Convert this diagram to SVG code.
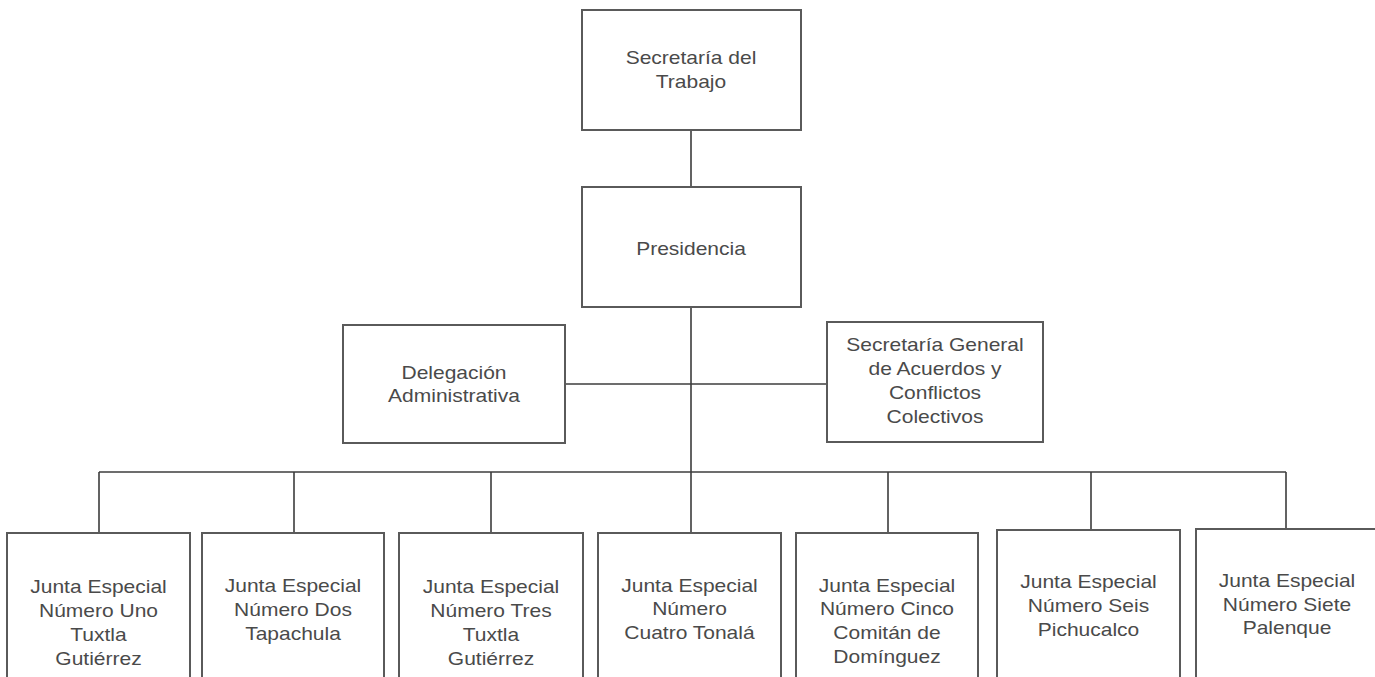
<svg xmlns="http://www.w3.org/2000/svg" width="1375" height="677" viewBox="0 0 1375 677">
<style>
.box{fill:#fff;stroke:#5a5a5a;stroke-width:2}
.conn line{stroke:#3c3c3c;stroke-width:1.6}
text{font-family:"Liberation Sans",Arial,sans-serif;font-size:17.5px;fill:#4a4a4a;text-anchor:middle}
</style>
<rect width="1375" height="677" fill="#fff"/>
<g id="connectors" class="conn">
<line x1="691" y1="130" x2="691" y2="187"/>
<line x1="691" y1="307" x2="691" y2="533"/>
<line x1="565" y1="384" x2="827" y2="384"/>
<line x1="99" y1="472" x2="1286" y2="472"/>
<line x1="99" y1="472" x2="99" y2="533"/>
<line x1="294" y1="472" x2="294" y2="533"/>
<line x1="491" y1="472" x2="491" y2="533"/>
<line x1="888" y1="472" x2="888" y2="533"/>
<line x1="1091" y1="472" x2="1091" y2="530"/>
<line x1="1286" y1="472" x2="1286" y2="529"/>
</g>
<g id="secretaria-trabajo">
<rect class="box" x="582" y="10" width="219" height="120"/>
<text transform="matrix(1.2,0,0,1,691,0)"><tspan x="0" y="64">Secretaría del</tspan><tspan x="0" y="88">Trabajo</tspan></text>
</g>
<g id="presidencia">
<rect class="box" x="582" y="187" width="219" height="120"/>
<text transform="matrix(1.2,0,0,1,691,0)"><tspan x="0" y="255">Presidencia</tspan></text>
</g>
<g id="delegacion">
<rect class="box" x="343" y="325" width="222" height="118"/>
<text transform="matrix(1.2,0,0,1,454,0)"><tspan x="0" y="379">Delegación</tspan><tspan x="0" y="402">Administrativa</tspan></text>
</g>
<g id="secretaria-general">
<rect class="box" x="827" y="322" width="216" height="120"/>
<text transform="matrix(1.2,0,0,1,935,0)"><tspan x="0" y="351">Secretaría General</tspan><tspan x="0" y="375">de Acuerdos y</tspan><tspan x="0" y="399">Conflictos</tspan><tspan x="0" y="423">Colectivos</tspan></text>
</g>
<g id="junta-1">
<rect class="box" x="7" y="533" width="183" height="160"/>
<text transform="matrix(1.2,0,0,1,98.5,0)"><tspan x="0" y="593">Junta Especial</tspan><tspan x="0" y="617">Número Uno</tspan><tspan x="0" y="641">Tuxtla</tspan><tspan x="0" y="665">Gutiérrez</tspan></text>
</g>
<g id="junta-2">
<rect class="box" x="202" y="533" width="182" height="160"/>
<text transform="matrix(1.2,0,0,1,293,0)"><tspan x="0" y="592">Junta Especial</tspan><tspan x="0" y="616">Número Dos</tspan><tspan x="0" y="640">Tapachula</tspan></text>
</g>
<g id="junta-3">
<rect class="box" x="399" y="533" width="184" height="160"/>
<text transform="matrix(1.2,0,0,1,491,0)"><tspan x="0" y="593">Junta Especial</tspan><tspan x="0" y="617">Número Tres</tspan><tspan x="0" y="641">Tuxtla</tspan><tspan x="0" y="665">Gutiérrez</tspan></text>
</g>
<g id="junta-4">
<rect class="box" x="598" y="533" width="183" height="160"/>
<text transform="matrix(1.2,0,0,1,689.5,0)"><tspan x="0" y="592">Junta Especial</tspan><tspan x="0" y="615">Número</tspan><tspan x="0" y="639">Cuatro Tonalá</tspan></text>
</g>
<g id="junta-5">
<rect class="box" x="796" y="533" width="182" height="160"/>
<text transform="matrix(1.2,0,0,1,887,0)"><tspan x="0" y="592">Junta Especial</tspan><tspan x="0" y="615">Número Cinco</tspan><tspan x="0" y="639">Comitán de</tspan><tspan x="0" y="663">Domínguez</tspan></text>
</g>
<g id="junta-6">
<rect class="box" x="997" y="530" width="183" height="160"/>
<text transform="matrix(1.2,0,0,1,1088.5,0)"><tspan x="0" y="588">Junta Especial</tspan><tspan x="0" y="612">Número Seis</tspan><tspan x="0" y="636">Pichucalco</tspan></text>
</g>
<g id="junta-7">
<rect class="box" x="1196" y="529" width="200" height="160"/>
<text transform="matrix(1.2,0,0,1,1287,0)"><tspan x="0" y="587">Junta Especial</tspan><tspan x="0" y="611">Número Siete</tspan><tspan x="0" y="634">Palenque</tspan></text>
</g>
</svg>
